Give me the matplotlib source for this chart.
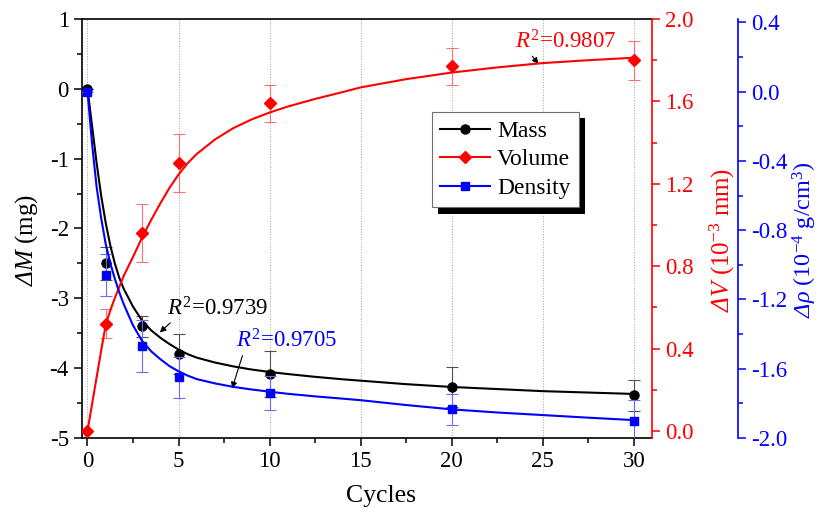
import matplotlib
matplotlib.use("Agg")
import matplotlib.pyplot as plt
import matplotlib.patheffects as pe
from matplotlib.lines import Line2D
from matplotlib.ticker import MultipleLocator, FormatStrFormatter

# measured points (mean values and error bars)
cycles = [0, 1, 3, 5, 10, 20, 30]
mass = [0.0, -2.5, -3.4, -3.8, -4.09, -4.27, -4.39]
mass_err = [0.0, 0.24, 0.15, 0.29, 0.33, 0.28, 0.22]
volume = [0.0, 0.52, 0.96, 1.30, 1.59, 1.77, 1.80]
volume_err = [0.0, 0.07, 0.14, 0.14, 0.09, 0.09, 0.095]
density = [0.0, -1.06, -1.47, -1.65, -1.74, -1.835, -1.90]
density_err = [0.0, 0.12, 0.15, 0.12, 0.10, 0.09, 0.12]

# fitted curves
fit_x = [0, 0.25, 0.5, 0.75, 1, 1.25, 1.5, 1.75, 2, 2.5, 3, 3.5, 4, 4.5, 5, 5.5, 6, 7, 8,
         9, 10, 11, 12.5, 14, 15, 17.5, 20, 22.5, 25, 27.5, 30]
mass_fit = [0, -0.53, -1.06, -1.53, -1.92, -2.24, -2.50, -2.71, -2.87, -3.12, -3.32, -3.46,
            -3.565, -3.655, -3.735, -3.80, -3.85, -3.92, -3.975, -4.02, -4.055, -4.085,
            -4.125, -4.16, -4.18, -4.23, -4.27, -4.30, -4.33, -4.35, -4.37]
volume_fit = [0, 0.13, 0.26, 0.39, 0.515, 0.585, 0.645, 0.70, 0.755, 0.845, 0.94, 1.025,
              1.105, 1.18, 1.245, 1.30, 1.345, 1.415, 1.47, 1.512, 1.546, 1.575, 1.612,
              1.645, 1.668, 1.708, 1.74, 1.765, 1.786, 1.80, 1.812]
density_fit = [0, -0.30, -0.55, -0.73, -0.88, -0.99, -1.08, -1.16, -1.23, -1.35, -1.44, -1.50,
               -1.545, -1.585, -1.615, -1.64, -1.66, -1.685, -1.705, -1.72, -1.733, -1.745,
               -1.76, -1.773, -1.782, -1.81, -1.835, -1.853, -1.868, -1.883, -1.897]

r2_mass = "0.9739"
r2_volume = "0.9807"
r2_density = "0.9705"

plt.rcParams["font.family"] = ["Liberation Serif", "DejaVu Serif"]
plt.rcParams["mathtext.fontset"] = "custom"
plt.rcParams["mathtext.rm"] = "Liberation Serif"
plt.rcParams["mathtext.it"] = "Liberation Serif:italic"
# italic slot used for the Greek capitals (mathit keeps them upright)
plt.rcParams["mathtext.sf"] = "Liberation Serif:italic"
plt.rcParams["axes.unicode_minus"] = False

RED = "#ff0000"
BLUE = "#0000ff"

fig, ax = plt.subplots(figsize=(8.22, 5.14), dpi=100)
fig.subplots_adjust(left=0.0998, right=0.7932, bottom=0.148, top=0.963)
axr = ax.twinx()
axb = ax.twinx()
axb.spines["right"].set_position(("outward", 62))

# mass (left axis)
ax.errorbar(cycles, mass, yerr=mass_err, fmt="none", ecolor="#505050",
            elinewidth=0.8, capsize=4, capthick=0.8)
ax.plot(fit_x, mass_fit, color="k", lw=1.5)
ax.plot(cycles, mass, "o", color="k", ms=6.5)

# volume (red axis)
axr.errorbar(cycles, volume, yerr=volume_err, fmt="none", ecolor="#ff7070",
             elinewidth=0.8, capsize=4, capthick=0.8)
axr.plot(fit_x, volume_fit, color=RED, lw=1.5)
axr.plot(cycles, volume, "D", color=RED, ms=6)

# density (blue axis)
axb.errorbar(cycles, density, yerr=density_err, fmt="none", ecolor="#6a6aff",
             elinewidth=0.8, capsize=4, capthick=0.8)
axb.plot(fit_x, density_fit, color=BLUE, lw=1.5)
axb.plot(cycles, density, "s", color=BLUE, ms=6)

ax.set_xlim(-0.3, 31.0)
ax.set_ylim(-5, 1)
axr.set_ylim(-0.034, 2.0)
axb.set_ylim(-2.0, 0.42)

ax.xaxis.set_major_locator(MultipleLocator(5))
ax.xaxis.set_minor_locator(MultipleLocator(2.5))
ax.yaxis.set_major_locator(MultipleLocator(1))
ax.yaxis.set_minor_locator(MultipleLocator(0.5))
axr.yaxis.set_major_locator(MultipleLocator(0.4))
axr.yaxis.set_minor_locator(MultipleLocator(0.2))
axr.yaxis.set_major_formatter(FormatStrFormatter("%.1f"))
axb.yaxis.set_major_locator(MultipleLocator(0.4))
axb.yaxis.set_minor_locator(MultipleLocator(0.2))
axb.yaxis.set_major_formatter(FormatStrFormatter("%.1f"))

ax.xaxis.grid(True, linestyle=":", color="#a0a0a0", lw=0.7)
ax.set_axisbelow(True)

for a in (ax, axr, axb):
    a.tick_params(which="major", direction="out", length=6, width=1.1, labelsize=16.5)
    a.tick_params(which="minor", direction="out", length=3.5, width=1.1)
ax.tick_params(top=False, right=False, which="both")

for s in ax.spines.values():
    s.set_linewidth(1.2)
ax.spines["right"].set_visible(False)
for name in ("left", "top", "bottom"):
    axr.spines[name].set_visible(False)
    axb.spines[name].set_visible(False)
axr.spines["right"].set_color(RED)
axr.spines["right"].set_linewidth(1.2)
axb.spines["right"].set_color(BLUE)
axb.spines["right"].set_linewidth(1.2)
axr.tick_params(axis="y", which="both", colors=RED)
axb.tick_params(axis="y", which="both", colors=BLUE)

ax.set_xlabel("Cycles", fontsize=18.5)
ax.xaxis.set_label_coords(0.525, -0.112)
ax.set_ylabel(r"$\mathsf{ΔM}$ (mg)", fontsize=18)
ax.yaxis.set_label_coords(-0.074, 0.4726)
axr.set_ylabel(r"$\mathsf{ΔV}$ (10$^{-3}$ mm)", fontsize=18, color=RED)
axr.yaxis.set_label_coords(1.098, 0.4726)
axb.set_ylabel(r"$\mathsf{Δρ}$ (10$^{-4}$ g/cm$^{3}$)", fontsize=17.5, color=BLUE)
axb.yaxis.set_label_coords(1.243, 0.4726)

arrow = dict(arrowstyle="-|>", color="k", lw=0.8, mutation_scale=9, shrinkA=0, shrinkB=0)
ax.annotate(r"$\mathit{R}^{2}$=" + r2_mass, xy=(3.97, -3.49), xytext=(4.38, -3.24),
            fontsize=16.5, color="k", va="baseline", ha="left",
            arrowprops=dict(arrow, relpos=(0.06, 0.0)))
ax.annotate(r"$\mathit{R}^{2}$=" + r2_density, xy=(7.94, -4.29), xytext=(8.17, -3.71),
            fontsize=16.5, color=BLUE, va="baseline", ha="left",
            arrowprops=dict(arrow, relpos=(0.07, 0.0)))
ax.annotate(r"$\mathit{R}^{2}$=" + r2_volume, xy=(24.76, 0.357), xytext=(23.47, 0.58),
            fontsize=16.5, color=RED, va="baseline", ha="left",
            arrowprops=dict(arrow, relpos=(0.15, 0.0)))

handles = [
    Line2D([], [], color="k", marker="o", ms=6.5, lw=1.5),
    Line2D([], [], color=RED, marker="D", ms=6, lw=1.5),
    Line2D([], [], color=BLUE, marker="s", ms=6, lw=1.5),
]
leg = axb.legend(handles, ["Mass", "Volume", "Density"], loc="upper left",
                 bbox_to_anchor=(0.614, 0.778), borderaxespad=0, fancybox=False,
                 edgecolor="#707070", framealpha=1, fontsize=17, handlelength=2.1,
                 handletextpad=0.3, labelspacing=0.3, borderpad=0.35)
leg.get_frame().set_linewidth(0.8)
leg.legendPatch.set_path_effects([
    pe.SimplePatchShadow(offset=(4.5, -4.5), shadow_rgbFace="k", alpha=1.0),
    pe.Normal(),
])

fig.savefig("out.png", dpi=100)
